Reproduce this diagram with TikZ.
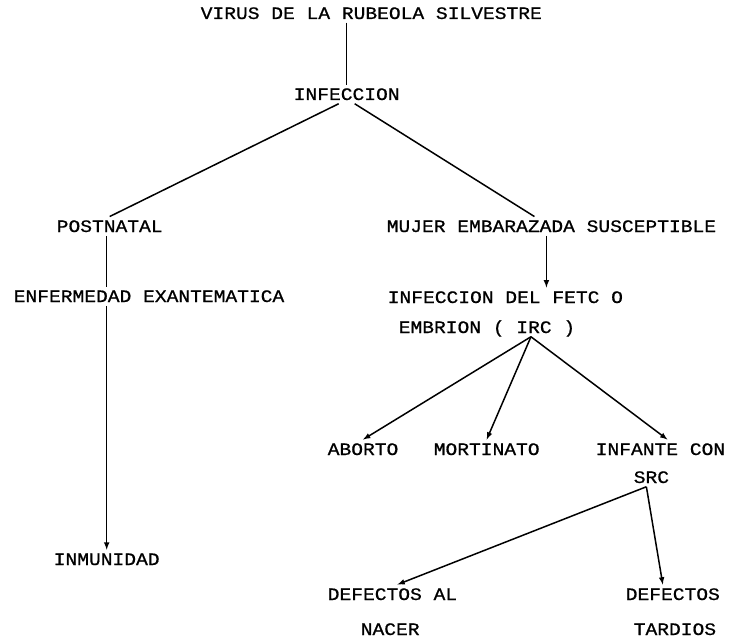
\documentclass[tikz,border=0pt]{standalone}
\usepackage{fontspec}
\newfontfamily\typewr[FakeStretch=1.12,FakeBold=0.8]{Liberation Mono}
\usepackage{tikz}

\begin{document}
\begin{tikzpicture}[x=1pt,y=-1pt,line width=1.5pt,>=latex,
	lbl/.style={anchor=base west,inner sep=3pt,text depth=0pt,font=\typewr\fontsize{17.5}{20}\selectfont}]
	\useasboundingbox (0,0) rectangle (733,639);
	
	\node[lbl] (virus) at (197,19) {VIRUS DE LA RUBEOLA SILVESTRE};
	\node[lbl] (infeccion) at (290,100) {INFECCION};
	\node[lbl] (postnatal) at (53,232) {POSTNATAL};
	\node[lbl] (mujer) at (383,232) {MUJER EMBARAZADA SUSCEPTIBLE};
	\node[lbl] (enfermedad) at (10,302) {ENFERMEDAD EXANTEMATICA};
	\node[lbl] (inmunidad) at (50,565) {INMUNIDAD};
	\node[lbl] (feto) at (384,303) {INFECCION DEL FETC O};
	\node[lbl] (embrion) at (395,333) {EMBRION ( IRC )};
	\node[lbl] (aborto) at (324,455) {ABORTO};
	\node[lbl] (mortinato) at (430,455) {MORTINATO};
	\node[lbl] (infante) at (592,455) {INFANTE CON};
	\node[lbl] (src) at (630,483) {SRC};
	\node[lbl] (defal) at (324,600) {DEFECTOS AL};
	\node[lbl] (nacer) at (357,635) {NACER};
	\node[lbl] (deftar) at (622,600) {DEFECTOS};
	\node[lbl] (tardios) at (630,635) {TARDIOS};
	
	\draw (virus.south -| infeccion.north) -- (infeccion.north);
	\draw ([xshift=-8pt]infeccion.south) -- (postnatal.north);
	\draw ([xshift=8pt]infeccion.south) -- ([xshift=-17pt]mujer.north);
	
	\draw ([xshift=-3pt]postnatal.south) -- ([xshift=-3pt]postnatal.south |- enfermedad.north);
	\draw[->] (enfermedad.south -| inmunidad.north) -- (inmunidad.north);
	
	\draw[->] ([xshift=-5pt]mujer.south) -- ([xshift=-5pt]mujer.south |- feto.north);
	\coordinate (irc) at ([xshift=44pt]embrion.south);
	\draw[->] (irc) -- (aborto.north);
	\draw[->] (irc) -- (mortinato.north);
	\draw[->] (irc) -- ([xshift=7pt]infante.north);
	
	\coordinate (srcpt) at ([xshift=-5pt]src.south);
	\draw[->] (srcpt) -- ([xshift=5pt]defal.north);
	\draw[->] (srcpt) -- ([xshift=-10pt]deftar.north);
\end{tikzpicture}
\end{document}
